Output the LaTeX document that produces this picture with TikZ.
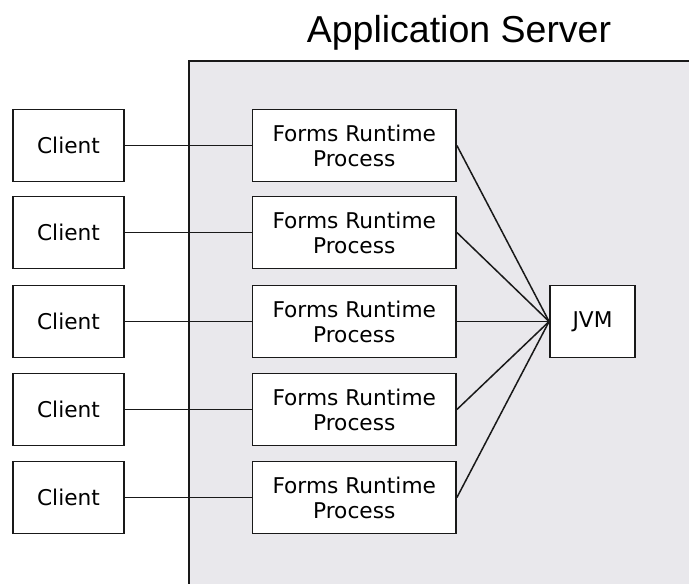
\documentclass[tikz,border=0pt]{standalone}
\usepackage{fontspec}
\setmainfont{DejaVu Sans}
\newfontfamily\titlefont{Liberation Sans}
\definecolor{srvfill}{RGB}{233,232,236}
\definecolor{linecol}{RGB}{25,25,25}
\tikzset{
  box/.style={draw=linecol, line width=1.8pt, fill=white, inner sep=0pt, align=center,
    minimum height=72pt, font=\fontsize{21.7}{25}\selectfont},
  clientbox/.style={box, minimum width=111pt},
  formsbox/.style={box, minimum width=203.5pt},
  jvmbox/.style={box, minimum width=85pt},
  link/.style={draw=linecol, line width=1.5pt}
}
\begin{document}
\begin{tikzpicture}[x=1pt,y=-1pt]
\useasboundingbox (0,0) rectangle (689,584);
% server area
\fill[srvfill] (188,60) rectangle (689,584);
\draw[linecol, line width=2pt] (188.5,584) -- (188.5,60.5) -- (689,60.5);
\node[anchor=base, font=\titlefont\fontsize{37.5}{40}\selectfont] (title) at (459,42) {Application Server};
% nodes
\foreach \i/\y in {1/145.5,2/232.5,3/321.5,4/409.5,5/497.5}{
  \node[clientbox] (c\i) at (68.5,\y) {Client};
  \node[formsbox] (f\i) at (354.25,\y) {Forms Runtime\\Process};
}
\node[jvmbox] (jvm) at (592.5,321.5) {JVM};
\foreach \i in {1,...,5}{
  \draw[link] (c\i.east) -- (f\i.west);
  \draw[link] (f\i.east) -- (jvm.west);
}
\end{tikzpicture}
\end{document}
